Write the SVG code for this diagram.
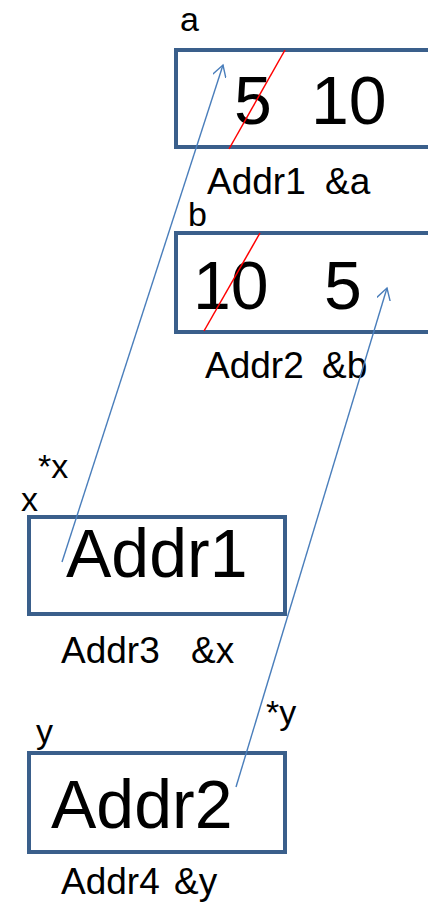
<svg xmlns="http://www.w3.org/2000/svg" width="428" height="908" viewBox="0 0 428 908">
<style>
.box{fill:#fff;stroke:#3a5f8b;stroke-width:4}
.t{font-family:"Liberation Sans",Arial,sans-serif;fill:#000}
.s{font-size:34px}
.m{font-size:37px}
.b{font-size:68px}
.cross{stroke:#ff0000;stroke-width:1.5}
.ptr{stroke:#4a7ebb;stroke-width:1.4;fill:none}
</style>
<defs>
<marker id="open" markerWidth="14" markerHeight="14" refX="12" refY="7" orient="auto" markerUnits="userSpaceOnUse">
<path d="M0,0 L12,7 L0,14" fill="none" stroke="#4a7ebb" stroke-width="1.4"/>
</marker>
</defs>
<g id="node-a">
<text class="t s" x="180" y="31">a</text>
<rect class="box" x="176" y="50" width="270" height="97"/>
<text class="t b" x="234" y="124">5</text>
<text class="t b" x="311" y="124">10</text>
<line class="cross" x1="229" y1="149" x2="285" y2="50"/>
<text class="t m" x="207" y="194">Addr1<tspan x="325">&amp;a</tspan></text>
</g>
<g id="node-b">
<text class="t s" x="188" y="226">b</text>
<rect class="box" x="176" y="233" width="270" height="99"/>
<text class="t b" x="193" y="309">10</text>
<text class="t b" x="324" y="309">5</text>
<line class="cross" x1="204" y1="331" x2="260" y2="233"/>
<text class="t m" x="205" y="378">Addr2<tspan x="322">&amp;b</tspan></text>
</g>
<g id="node-x">
<text class="t s" x="38" y="478">*x</text>
<text class="t s" x="21" y="511">x</text>
<rect class="box" x="29" y="517" width="256" height="97"/>
<text class="t b" x="66" y="577">Addr1</text>
<text class="t m" x="61" y="663">Addr3<tspan x="191">&amp;x</tspan></text>
</g>
<g id="node-y">
<text class="t s" x="36" y="743">y</text>
<text class="t s" x="266" y="724">*y</text>
<rect class="box" x="29" y="753" width="256" height="99"/>
<text class="t b" x="51" y="828">Addr2</text>
<text class="t m" x="61" y="894">Addr4<tspan x="174">&amp;y</tspan></text>
</g>
<g id="connectors">
<line class="ptr" x1="62" y1="562" x2="223" y2="65" marker-end="url(#open)"/>
<line class="ptr" x1="236" y1="787" x2="387" y2="288" marker-end="url(#open)"/>
</g>
</svg>
